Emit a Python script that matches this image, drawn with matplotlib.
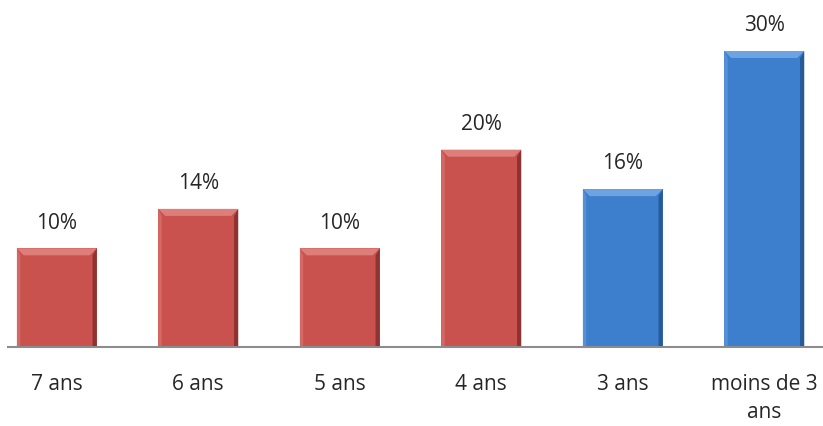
import matplotlib.pyplot as plt
from matplotlib.patches import Polygon

categories = ['7 ans', '6 ans', '5 ans', '4 ans', '3 ans', 'moins de 3\nans']
values = [10, 14, 10, 20, 16, 30]
colors = ['#C9524F', '#C9524F', '#C9524F', '#C9524F', '#3D7FCC', '#3D7FCC']
light = ['#DE7E7B', '#DE7E7B', '#DE7E7B', '#DE7E7B', '#6DA3E3', '#6DA3E3']
dark = ['#8E3331', '#8E3331', '#8E3331', '#8E3331', '#275A98', '#275A98']

plt.rcParams['font.family'] = ['Open Sans', 'DejaVu Sans']

W, H = 823, 426
fig = plt.figure(figsize=(W / 100, H / 100), dpi=100)
# plot area runs a bit past the right edge, as in the cropped original
left_px, right_px = -14, 835
base_px, top_px = 347, 51
ax = fig.add_axes([left_px / W, (H - base_px) / H, (right_px - left_px) / W, (base_px - top_px) / H])
ax.set_xlim(-0.5, len(categories) - 0.5)
ax.set_ylim(0, 30)
for s in ax.spines.values():
    s.set_visible(False)
ax.set_xticks([])
ax.set_yticks([])

bw = 80 / 141.5
bars = ax.bar(range(len(categories)), values, width=bw, color=colors, edgecolor='none', zorder=2)

bx = 7 / 141.5
by = 30 / 296 * 7
for b, c, lc, dc, v in zip(bars, colors, light, dark, values):
    x0, x1 = b.get_x(), b.get_x() + b.get_width()
    y1 = b.get_height()
    # top bevel
    ax.add_patch(Polygon([(x0, y1), (x1, y1), (x1 - bx, y1 - by), (x0 + bx, y1 - by)],
                         closed=True, color=lc, lw=0, zorder=3))
    # left bevel
    ax.add_patch(Polygon([(x0, 0), (x0, y1), (x0 + bx * 0.5, y1 - by), (x0 + bx * 0.5, 0)],
                         closed=True, color=lc, alpha=0.5, lw=0, zorder=3))
    # right edge
    ax.add_patch(Polygon([(x1, 0), (x1, y1), (x1 - bx * 0.6, y1 - by), (x1 - bx * 0.6, 0)],
                         closed=True, color=dc, lw=0, zorder=3))
    ax.text(b.get_x() + b.get_width() / 2, y1 + 2.0, f'{v}%', ha='center', va='baseline',
            fontsize=15, color='#262626')

# baseline
ax.plot([-0.5 + (8 - left_px) / 141.5, len(categories) - 0.5], [0, 0], color='#8C8C8C', lw=1.5,
        zorder=4, clip_on=False)

for i, c in enumerate(categories):
    ax.text(i, -2.7, c, ha='center', va='top', fontsize=15, color='#262626', linespacing=1.45)

fig.savefig('out.png', dpi=100)
